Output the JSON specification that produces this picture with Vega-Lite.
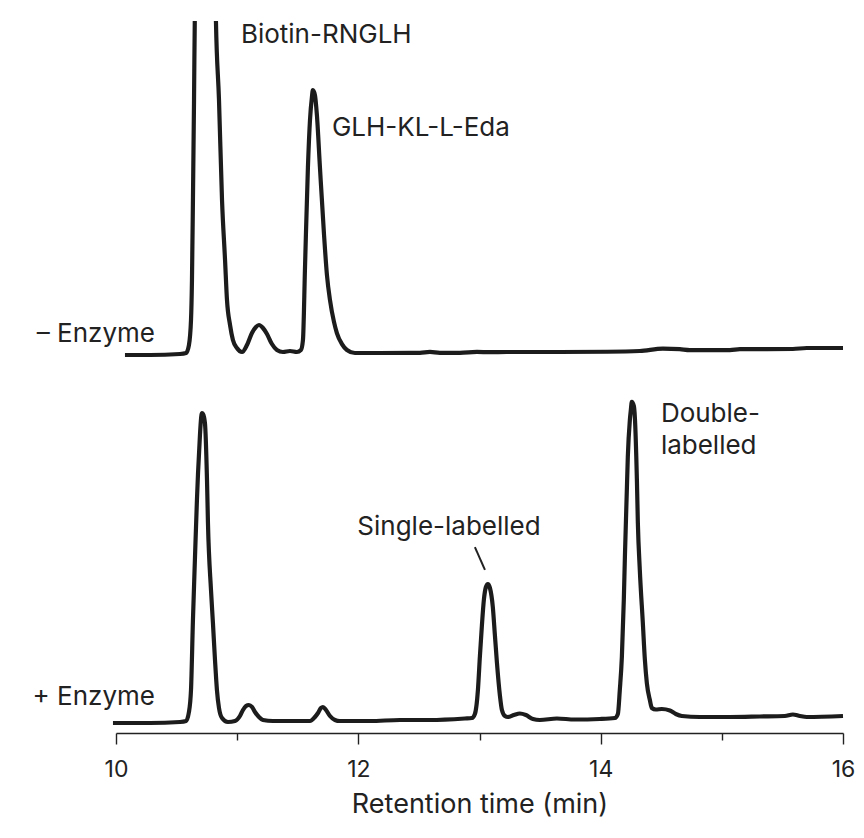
{
  "$schema": "https://vega.github.io/schema/vega-lite/v6.json",
  "width": 727,
  "height": 712,
  "autosize": {"type": "none"},
  "padding": {"left": 116, "top": 21, "right": 21, "bottom": 105},
  "config": {
    "view": {"stroke": null},
    "font": "Inter",
    "text": {"font": "Inter", "fontSize": 26, "color": "#222222"},
    "axis": {
      "domainColor": "#222222",
      "domainWidth": 1.4,
      "tickColor": "#222222",
      "tickWidth": 1.4,
      "labelColor": "#222222",
      "titleColor": "#222222",
      "grid": false
    }
  },
  "datasets": {
    "minus": [
      {"t": 10.074, "v": 1.67}, {"t": 10.281, "v": 1.67}, {"t": 10.528, "v": 2.0}, {"t": 10.578, "v": 2.33},
      {"t": 10.602, "v": 5.0}, {"t": 10.619, "v": 13.3}, {"t": 10.627, "v": 26.7}, {"t": 10.635, "v": 53.3},
      {"t": 10.644, "v": 86.7}, {"t": 10.652, "v": 120}, {"t": 10.734, "v": 186.7}, {"t": 10.809, "v": 153},
      {"t": 10.825, "v": 112.7}, {"t": 10.85, "v": 86.7}, {"t": 10.875, "v": 53.3}, {"t": 10.9, "v": 33.3},
      {"t": 10.916, "v": 20}, {"t": 10.941, "v": 11.7}, {"t": 10.965, "v": 6.67}, {"t": 10.998, "v": 4},
      {"t": 11.04, "v": 2.67}, {"t": 11.081, "v": 5}, {"t": 11.122, "v": 9}, {"t": 11.155, "v": 11},
      {"t": 11.18, "v": 11.67}, {"t": 11.213, "v": 10.67}, {"t": 11.246, "v": 8.67}, {"t": 11.287, "v": 5.33},
      {"t": 11.328, "v": 3.33}, {"t": 11.378, "v": 2.67}, {"t": 11.436, "v": 3.0}, {"t": 11.493, "v": 2.67},
      {"t": 11.526, "v": 3.33}, {"t": 11.543, "v": 6.67}, {"t": 11.56, "v": 31}, {"t": 11.584, "v": 64.3},
      {"t": 11.601, "v": 80}, {"t": 11.617, "v": 87.7}, {"t": 11.625, "v": 90}, {"t": 11.642, "v": 88.3},
      {"t": 11.658, "v": 81.7}, {"t": 11.683, "v": 64.3}, {"t": 11.716, "v": 42.3}, {"t": 11.741, "v": 28.3},
      {"t": 11.766, "v": 20}, {"t": 11.799, "v": 12.7}, {"t": 11.823, "v": 9}, {"t": 11.865, "v": 5.3},
      {"t": 11.906, "v": 3.33}, {"t": 11.972, "v": 2.33}, {"t": 12.178, "v": 2.33}, {"t": 12.508, "v": 2.4},
      {"t": 12.591, "v": 2.7}, {"t": 12.673, "v": 2.4}, {"t": 12.838, "v": 2.4}, {"t": 12.979, "v": 2.7},
      {"t": 13.086, "v": 2.6}, {"t": 13.226, "v": 2.67}, {"t": 13.663, "v": 2.67}, {"t": 14.051, "v": 2.75},
      {"t": 14.323, "v": 3.0}, {"t": 14.513, "v": 3.8}, {"t": 14.653, "v": 3.6}, {"t": 14.736, "v": 3.3},
      {"t": 15.066, "v": 3.3}, {"t": 15.149, "v": 3.6}, {"t": 15.586, "v": 3.67}, {"t": 15.701, "v": 4.0},
      {"t": 16.015, "v": 4.0}
    ],
    "plus": [
      {"t": 9.975, "v": 0.67}, {"t": 10.281, "v": 0.67}, {"t": 10.528, "v": 1.0}, {"t": 10.578, "v": 1.33},
      {"t": 10.602, "v": 4.33}, {"t": 10.619, "v": 11.67}, {"t": 10.635, "v": 35}, {"t": 10.652, "v": 56},
      {"t": 10.668, "v": 75}, {"t": 10.677, "v": 84}, {"t": 10.693, "v": 96.7}, {"t": 10.701, "v": 101.7},
      {"t": 10.71, "v": 104}, {"t": 10.718, "v": 103.7}, {"t": 10.734, "v": 100.7}, {"t": 10.751, "v": 81.7},
      {"t": 10.759, "v": 67.3}, {"t": 10.784, "v": 45}, {"t": 10.8, "v": 34}, {"t": 10.817, "v": 21.7},
      {"t": 10.833, "v": 11.67}, {"t": 10.85, "v": 5.67}, {"t": 10.875, "v": 2.33}, {"t": 10.924, "v": 1.0},
      {"t": 10.982, "v": 1.33}, {"t": 11.023, "v": 3.0}, {"t": 11.048, "v": 5.0}, {"t": 11.073, "v": 6.33},
      {"t": 11.097, "v": 6.67}, {"t": 11.122, "v": 6.0}, {"t": 11.147, "v": 4.33}, {"t": 11.18, "v": 2.67},
      {"t": 11.213, "v": 1.67}, {"t": 11.295, "v": 1.33}, {"t": 11.601, "v": 1.33}, {"t": 11.642, "v": 2.67},
      {"t": 11.667, "v": 4.0}, {"t": 11.691, "v": 5.67}, {"t": 11.708, "v": 6.0}, {"t": 11.733, "v": 5.0},
      {"t": 11.766, "v": 3.0}, {"t": 11.807, "v": 1.67}, {"t": 11.848, "v": 1.33}, {"t": 12.096, "v": 1.33},
      {"t": 12.343, "v": 1.67}, {"t": 12.591, "v": 1.67}, {"t": 12.88, "v": 2.17}, {"t": 12.937, "v": 2.33},
      {"t": 12.962, "v": 3.67}, {"t": 12.987, "v": 11.67}, {"t": 13.003, "v": 22.7}, {"t": 13.02, "v": 33.3},
      {"t": 13.036, "v": 41.7}, {"t": 13.053, "v": 46}, {"t": 13.069, "v": 47}, {"t": 13.086, "v": 45.7},
      {"t": 13.11, "v": 39.3}, {"t": 13.127, "v": 30}, {"t": 13.144, "v": 20.7}, {"t": 13.168, "v": 10},
      {"t": 13.185, "v": 5}, {"t": 13.21, "v": 3}, {"t": 13.234, "v": 2.67}, {"t": 13.284, "v": 3.33},
      {"t": 13.333, "v": 3.83}, {"t": 13.383, "v": 3.33}, {"t": 13.441, "v": 2.0}, {"t": 13.498, "v": 1.67},
      {"t": 13.639, "v": 2.17}, {"t": 13.787, "v": 1.83}, {"t": 13.993, "v": 2.0}, {"t": 14.117, "v": 2.33},
      {"t": 14.142, "v": 3.67}, {"t": 14.158, "v": 11.67}, {"t": 14.175, "v": 22.7}, {"t": 14.191, "v": 41.7},
      {"t": 14.2, "v": 56}, {"t": 14.216, "v": 78.3}, {"t": 14.224, "v": 89.3}, {"t": 14.241, "v": 101.7},
      {"t": 14.249, "v": 105}, {"t": 14.257, "v": 107.7}, {"t": 14.274, "v": 106.3}, {"t": 14.282, "v": 102.7},
      {"t": 14.299, "v": 81.7}, {"t": 14.307, "v": 67.3}, {"t": 14.323, "v": 51.7}, {"t": 14.348, "v": 34},
      {"t": 14.365, "v": 21.7}, {"t": 14.381, "v": 14}, {"t": 14.406, "v": 8.33}, {"t": 14.422, "v": 5.67},
      {"t": 14.455, "v": 5.17}, {"t": 14.505, "v": 5.33}, {"t": 14.571, "v": 4.83}, {"t": 14.62, "v": 3.67},
      {"t": 14.67, "v": 3.0}, {"t": 14.818, "v": 2.67}, {"t": 15.066, "v": 2.67}, {"t": 15.314, "v": 2.83},
      {"t": 15.52, "v": 3.0}, {"t": 15.586, "v": 3.5}, {"t": 15.644, "v": 3.0}, {"t": 15.701, "v": 2.67},
      {"t": 16.0, "v": 3.0}
    ]
  },
  "layer": [
    {
      "layer": [
        {
          "data": {"name": "minus"},
          "mark": {"type": "line", "interpolate": "monotone", "color": "#1c1c1c", "strokeWidth": 4.2, "clip": true},
          "encoding": {
            "x": {
              "field": "t", "type": "quantitative", "title": "Retention time (min)",
              "scale": {"domain": [10, 16], "nice": false, "zero": false},
              "axis": {
                "values": [10, 11, 12, 13, 14, 15, 16],
                "format": "d",
                "labelExpr": "datum.value % 2 === 0 ? datum.label : ''",
                "tickSize": {"condition": {"test": "datum.value % 2 === 0", "value": 11}, "value": 7},
                "labelFontSize": 23,
                "labelPadding": 14,
                "labelFlush": false,
                "titleFontSize": 27,
                "titleFontWeight": "normal",
                "titlePadding": 10
              }
            },
            "y": {"field": "v", "type": "quantitative", "scale": {"domain": [-124.33, 113], "nice": false, "zero": false}, "axis": null}
          }
        },
        {
          "data": {"values": [{}]},
          "mark": {"type": "text", "text": "– Enzyme", "align": "right", "baseline": "alphabetic"},
          "encoding": {"x": {"datum": 10.322}, "y": {"datum": 6}}
        },
        {
          "data": {"values": [{}]},
          "mark": {"type": "text", "text": "Biotin-RNGLH", "align": "left", "baseline": "alphabetic"},
          "encoding": {"x": {"datum": 11.031}, "y": {"datum": 105.7}}
        },
        {
          "data": {"values": [{}]},
          "mark": {"type": "text", "text": "GLH-KL-L-Eda", "align": "left", "baseline": "alphabetic"},
          "encoding": {"x": {"datum": 11.782}, "y": {"datum": 74.7}}
        }
      ]
    },
    {
      "layer": [
        {
          "data": {"name": "plus"},
          "mark": {"type": "line", "interpolate": "monotone", "color": "#1c1c1c", "strokeWidth": 4.2},
          "encoding": {
            "x": {
              "field": "t", "type": "quantitative", "title": "Retention time (min)",
              "scale": {"domain": [10, 16], "nice": false, "zero": false}
            },
            "y": {"field": "v", "type": "quantitative", "scale": {"domain": [-2.67, 234.67], "nice": false, "zero": false}, "axis": null}
          }
        },
        {
          "data": {"values": [{}]},
          "mark": {"type": "text", "text": "+ Enzyme", "align": "right", "baseline": "alphabetic"},
          "encoding": {"x": {"datum": 10.322}, "y": {"datum": 6.67}}
        },
        {
          "data": {"values": [{}]},
          "mark": {"type": "text", "text": "Single-labelled", "align": "center", "baseline": "alphabetic"},
          "encoding": {"x": {"datum": 12.748}, "y": {"datum": 63.3}}
        },
        {
          "data": {"values": [{}]},
          "mark": {"type": "rule", "color": "#222222", "strokeWidth": 2},
          "encoding": {"x": {"datum": 12.962}, "y": {"datum": 59.3}, "x2": {"datum": 13.045}, "y2": {"datum": 51.7}}
        },
        {
          "data": {"values": [{}]},
          "mark": {"type": "text", "text": ["Double-", "labelled"], "lineHeight": 32, "align": "left", "baseline": "alphabetic"},
          "encoding": {"x": {"datum": 14.497}, "y": {"datum": 101}}
        }
      ]
    }
  ],
  "resolve": {"scale": {"y": "independent"}}
}
